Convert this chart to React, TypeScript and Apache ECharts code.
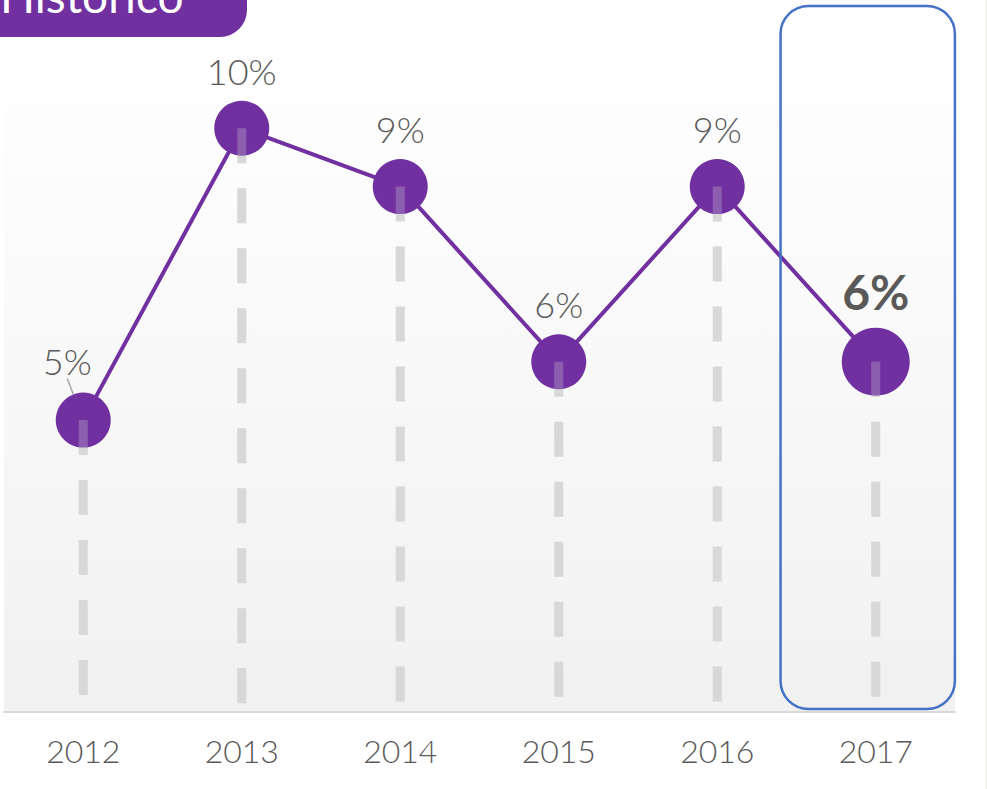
import React, { useEffect, useRef } from "react";
import * as echarts from "echarts";

const years = ["2012", "2013", "2014", "2015", "2016", "2017"];
const values = [5, 10, 9, 6, 9, 6];
const highlightIndex = 5;
const titleText = "Histórico";

export default function App() {
  const ref = useRef<HTMLDivElement>(null);
  useEffect(() => {
    const chart = echarts.init(ref.current!, null, { renderer: "svg" });
    const purple = "#7030a0";
    const labelColor = "#595959";

    const dropRender = (color: string) => (params: any, api: any) => {
      const top = api.coord([api.value(0), api.value(1)]);
      const bottom = api.coord([api.value(0), 0]);
      return {
        type: "line",
        shape: { x1: top[0], y1: top[1], x2: bottom[0], y2: bottom[1] - 6 },
        style: { stroke: color, lineWidth: 9, lineDash: [35, 25], fill: null },
      };
    };
    const dropData = values.map((v, i) => [i, v]);

    const lineData = values.map((v, i) => {
      if (i === highlightIndex) {
        return {
          value: v,
          symbolSize: 68,
          label: { fontSize: 48, fontWeight: "bold", distance: 12, color: labelColor },
        };
      }
      if (i === 0) {
        return {
          value: v,
          labelLine: { show: true, lineStyle: { color: "#a6a6a6", width: 1.5 } },
        };
      }
      return { value: v };
    });

    chart.setOption({
      animation: false,
      grid: {
        left: 4,
        right: 32,
        top: 99,
        bottom: 77,
        show: true,
        borderWidth: 0,
        backgroundColor: new echarts.graphic.LinearGradient(0, 0, 0, 1, [
          { offset: 0, color: "#fefefe" },
          { offset: 1, color: "#f1f1f1" },
        ]),
      },
      xAxis: {
        type: "category",
        data: years,
        boundaryGap: true,
        axisLine: { lineStyle: { color: "#d9d9d9", width: 2 } },
        axisTick: { show: false },
        axisLabel: {
          margin: 22,
          fontSize: 32,
          fontWeight: 300,
          color: labelColor,
          fontFamily: "Lato",
        },
      },
      yAxis: {
        type: "value",
        min: 0,
        max: 10.5,
        show: false,
        splitLine: { show: false },
      },
      series: [
        {
          type: "custom",
          z: 1,
          data: dropData,
          renderItem: dropRender("#d9d9d9"),
          silent: true,
        },
        {
          type: "line",
          z: 2,
          data: lineData,
          symbol: "circle",
          symbolSize: 55,
          lineStyle: { color: purple, width: 4 },
          itemStyle: { color: purple },
          label: {
            show: true,
            position: "top",
            distance: 12,
            fontSize: 36,
            fontFamily: "Lato",
            fontWeight: 300,
            color: labelColor,
            formatter: (p: any) => `${p.value}%`,
          },
          labelLine: { show: false },
          labelLayout: (p: any) => (p.dataIndex === 0 ? { dx: -16, dy: -2 } : {}),
        },
        {
          type: "custom",
          z: 3,
          data: dropData,
          renderItem: dropRender("rgba(217,217,217,0.28)"),
          silent: true,
        },
      ],
    });

    const cx = chart.convertToPixel({ xAxisIndex: 0 }, highlightIndex) as number;
    const band =
      (chart.convertToPixel({ xAxisIndex: 0 }, 1) as number) -
      (chart.convertToPixel({ xAxisIndex: 0 }, 0) as number);
    const boxW = band * 1.1;

    chart.setOption({
      graphic: [
        {
          type: "rect",
          shape: { x: -40, y: -40, width: 287, height: 77, r: 27 },
          style: { fill: purple },
          z: 10,
        },
        {
          type: "text",
          x: 0,
          y: 18,
          style: {
            text: titleText,
            fill: "#ffffff",
            fontSize: 46,
            fontFamily: "Lato",
            verticalAlign: "bottom",
            align: "left",
          },
          z: 11,
        },
        {
          type: "rect",
          shape: { x: cx - boxW * 0.546, y: 6, width: boxW, height: 703, r: 28 },
          style: { fill: null, stroke: "#4472c4", lineWidth: 2.5 },
          z: 12,
        },
        {
          type: "line",
          shape: { x1: 986, y1: 0, x2: 986, y2: 789 },
          style: { stroke: "#e8e8e2", lineWidth: 1 },
          z: 12,
        },
      ],
    });

    return () => chart.dispose();
  }, []);
  return (
    <div
      ref={ref}
      style={{ position: "fixed", left: 0, top: 0, width: 987, height: 789, background: "#ffffff" }}
    />
  );
}
